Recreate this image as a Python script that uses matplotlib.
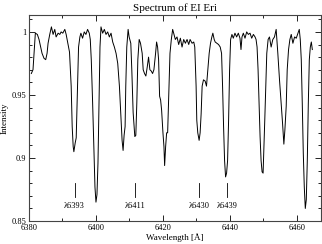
import matplotlib
matplotlib.use("Agg")
import matplotlib.pyplot as plt
from matplotlib.ticker import MultipleLocator

plt.rcParams['font.family'] = ['Liberation Serif', 'DejaVu Serif']

# spectrum (wavelength in A, normalised intensity)
wave = [6380.7, 6381.2, 6381.9, 6382.5, 6383.0, 6383.5, 6383.9, 6384.5, 6385.0, 6385.4,
        6385.7, 6386.2, 6386.7, 6387.2, 6387.7, 6388.1, 6388.7, 6389.2, 6389.6, 6390.1,
        6390.7, 6391.1, 6391.6, 6392.1, 6392.6, 6392.9, 6393.2, 6393.4, 6393.8, 6394.1,
        6394.5, 6394.8, 6395.2, 6395.5, 6396.0, 6396.5, 6397.0, 6397.5, 6398.0, 6398.3,
        6398.6, 6399.0, 6399.4, 6399.7, 6400.0, 6400.3, 6400.6, 6400.9, 6401.2, 6401.5,
        6402.0, 6402.5, 6403.0, 6403.5, 6404.0, 6404.5, 6405.0, 6405.5, 6406.0, 6406.5,
        6407.0, 6407.5, 6407.8, 6408.1, 6408.4, 6408.7, 6408.9, 6409.2, 6409.6, 6409.9,
        6410.4, 6410.7, 6411.1, 6411.6, 6411.9, 6412.2, 6412.5, 6412.9, 6413.3, 6413.8,
        6414.1, 6414.5, 6414.9, 6415.3, 6415.7, 6416.1, 6416.5, 6416.9, 6417.3, 6417.8,
        6418.1, 6418.4, 6418.7, 6419.0, 6419.3, 6419.6, 6420.0, 6420.3, 6420.5, 6420.8,
        6421.1, 6421.4, 6421.8, 6422.1, 6422.5, 6422.9, 6423.2, 6423.7, 6424.2, 6424.7,
        6425.2, 6425.7, 6426.2, 6426.7, 6427.2, 6427.7, 6428.1, 6428.7, 6429.2, 6429.5,
        6429.9, 6430.1, 6430.4, 6430.8, 6431.1, 6431.4, 6431.7, 6432.1, 6432.6, 6433.0,
        6433.4, 6433.8, 6434.2, 6434.6, 6434.9, 6435.3, 6435.6, 6436.1, 6436.6, 6437.1,
        6437.5, 6437.8, 6438.1, 6438.4, 6438.7, 6439.0, 6439.3, 6439.6, 6439.9, 6440.2,
        6440.6, 6441.0, 6441.5, 6442.0, 6442.5, 6443.0, 6443.3, 6443.6, 6444.0, 6444.5,
        6445.0, 6445.5, 6446.0, 6446.5, 6447.0, 6447.5, 6447.8, 6448.1, 6448.4, 6448.7,
        6449.0, 6449.3, 6449.6, 6449.9, 6450.1, 6450.4, 6450.7, 6451.0, 6451.4, 6451.8,
        6452.3, 6452.8, 6453.3, 6453.8, 6454.3, 6454.8, 6455.3, 6455.7, 6456.1, 6456.4,
        6456.8, 6457.1, 6457.5, 6457.9, 6458.3, 6458.8, 6459.3, 6459.8, 6460.3, 6460.7,
        6461.0, 6461.3, 6461.6, 6461.9, 6462.2, 6462.5, 6462.8, 6463.1, 6463.4, 6463.7,
        6464.0, 6464.3, 6464.6]
flux = [0.967, 0.970, 0.999, 0.998, 0.994, 0.988, 0.983, 0.979, 0.978, 0.983,
        0.991, 0.998, 1.004, 0.998, 1.002, 0.996, 0.999, 0.998, 1.000, 0.999,
        1.002, 0.998, 0.991, 0.984, 0.957, 0.925, 0.909, 0.905, 0.912, 0.916,
        0.957, 0.988, 0.996, 0.999, 0.995, 1.000, 0.998, 1.002, 0.999, 0.994,
        0.978, 0.944, 0.904, 0.877, 0.865, 0.871, 0.896, 0.943, 0.988, 1.004,
        0.999, 1.002, 0.998, 1.000, 0.996, 0.999, 0.992, 0.988, 0.983, 0.975,
        0.957, 0.930, 0.914, 0.906, 0.918, 0.925, 0.957, 0.988, 1.002, 0.996,
        0.991, 0.970, 0.936, 0.917, 0.918, 0.944, 0.978, 0.994, 0.991, 0.983,
        0.970, 0.967, 0.965, 0.972, 0.980, 0.970, 0.969, 0.967, 0.970, 0.983,
        0.992, 0.988, 0.978, 0.949, 0.946, 0.938, 0.920, 0.909, 0.894, 0.909,
        0.920, 0.920, 0.957, 0.983, 0.994, 1.002, 0.999, 0.994, 0.996, 0.990,
        0.995, 0.988, 0.994, 0.991, 0.994, 0.990, 0.994, 0.991, 0.992, 0.988,
        0.957, 0.930, 0.920, 0.914, 0.920, 0.935, 0.957, 0.962, 0.961, 0.957,
        0.970, 0.983, 0.991, 0.996, 0.999, 0.994, 0.992, 0.991, 0.990, 0.988,
        0.983, 0.957, 0.925, 0.898, 0.885, 0.888, 0.898, 0.930, 0.970, 0.994,
        0.998, 0.995, 0.999, 0.996, 0.999, 0.995, 0.986, 0.996, 0.999, 0.995,
        1.000, 0.998, 0.999, 0.995, 0.998, 0.996, 0.994, 0.988, 0.970, 0.944,
        0.917, 0.898, 0.889, 0.888, 0.904, 0.930, 0.957, 0.983, 0.994, 0.996,
        0.988, 0.994, 0.996, 1.002, 0.983, 0.962, 0.943, 0.928, 0.911, 0.922,
        0.941, 0.970, 0.986, 0.994, 0.998, 0.991, 0.996, 0.995, 0.999, 1.002,
        0.994, 0.978, 0.943, 0.904, 0.877, 0.860, 0.867, 0.898, 0.943, 0.978,
        0.988, 0.992, 0.986]

# marked lines
line_pos = [6393.6, 6411.65, 6430.85, 6439.07]
line_lab = ['λ6393', 'λ6411', 'λ6430', 'λ6439']

fig = plt.figure(figsize=(3.22, 2.44), dpi=100)
ax = fig.add_axes([0.090, 0.094, 0.907, 0.845])

ax.plot(wave, flux, color='black', lw=0.7)

for x, lab in zip(line_pos, line_lab):
    ax.plot([x, x], [0.869, 0.880], color='black', lw=0.6)
    ax.text(x, 0.862, lab, ha='center', va='center', fontsize=6)

ax.set_xlim(6380, 6467.2)
ax.set_ylim(0.85, 1.0135)
ax.xaxis.set_major_locator(MultipleLocator(20))
ax.xaxis.set_minor_locator(MultipleLocator(10))
ax.yaxis.set_major_locator(MultipleLocator(0.05))
ax.yaxis.set_minor_locator(MultipleLocator(0.01))
ax.set_yticks([0.85, 0.9, 0.95, 1.0])
ax.set_yticklabels(['0.85', '0.9', '0.95', '1'])
ax.tick_params(which='both', direction='in', top=True, right=True,
               labelsize=6, pad=2, width=0.6)
ax.tick_params(which='major', length=4)
ax.tick_params(which='minor', length=2)
for s in ax.spines.values():
    s.set_linewidth(0.8)
    s.set_color('#444444')

ax.set_xlabel('Wavelength [Å]', fontsize=6.5, labelpad=1)
ax.set_ylabel('Intensity', fontsize=6.5, labelpad=2)
ax.set_title('Spectrum of EI Eri', fontsize=8, pad=3)

fig.savefig('out.png', dpi=100)
